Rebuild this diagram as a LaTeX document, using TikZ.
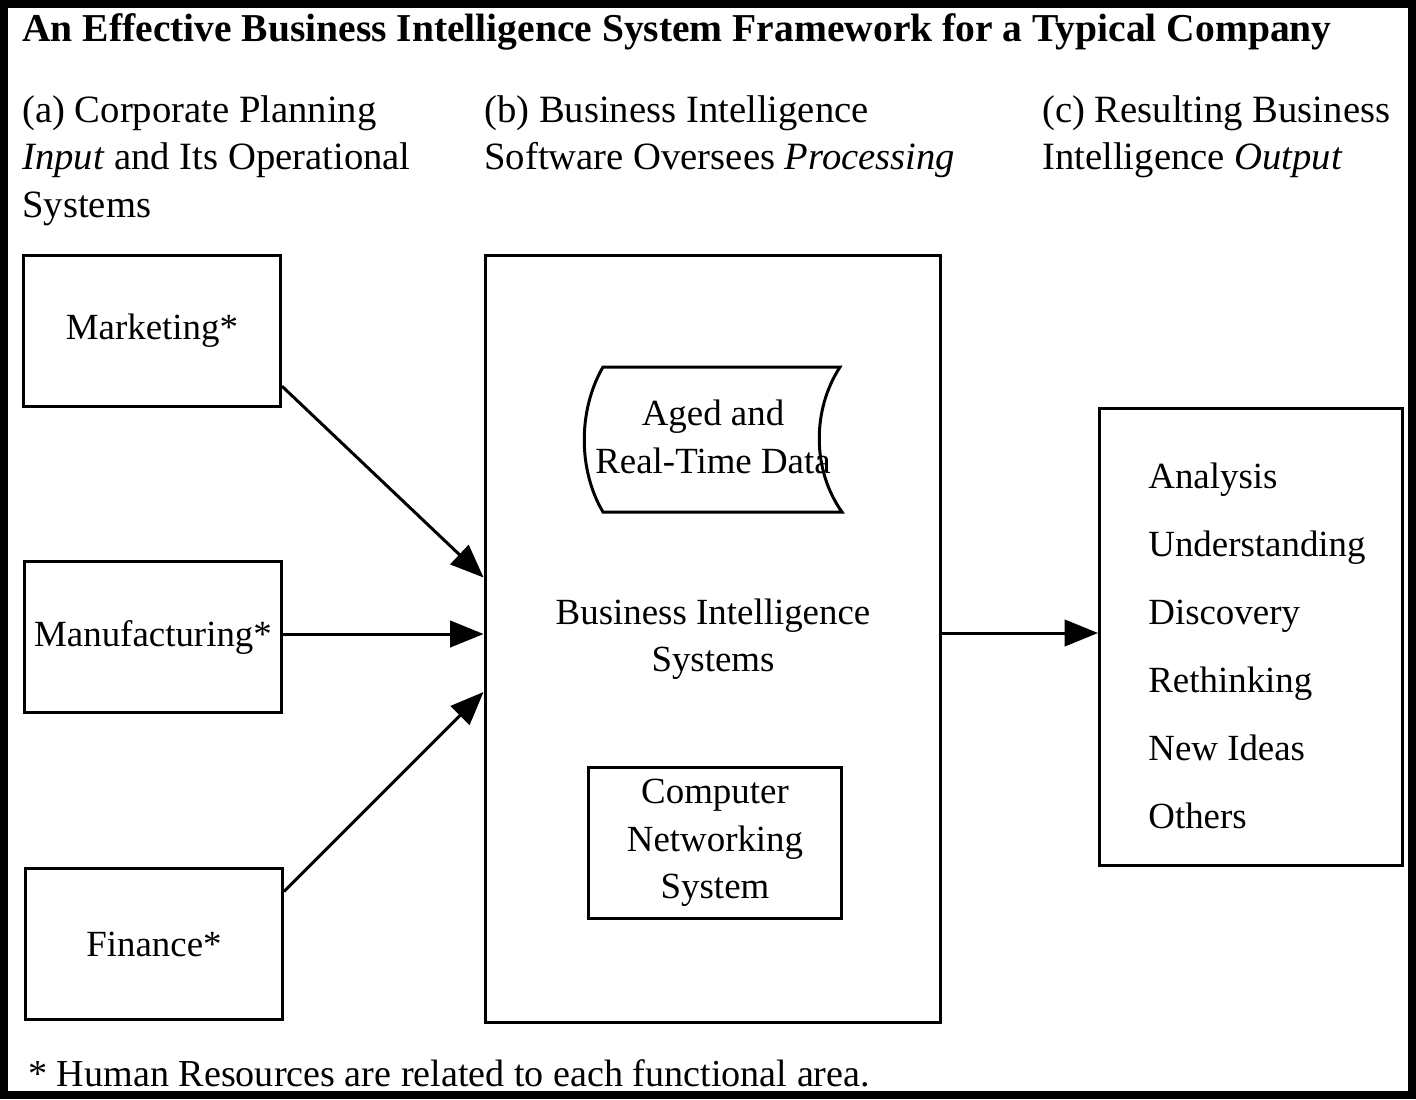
\documentclass[tikz,border=0pt]{standalone}
\usepackage{fontspec}
\setmainfont{Liberation Serif}
\usetikzlibrary{calc,arrows.meta}

\begin{document}
\begin{tikzpicture}[
		x=0.02cm, y=-0.02cm,
		box line/.style={line width=1.7pt}, arrow line/.style={line width=1.7pt,-{Triangle[length=19pt,width=15pt]}},
		every node/.style={color=black,font=\fontsize{21}{27}\selectfont},
		]
		\tikzset{
			areaBox/.style={box line,draw,rectangle,inner sep=0pt,minimum width=5.14cm,minimum height=3.02cm},
			headText/.style={anchor=north west,inner sep=0pt,align=left,font=\fontsize{22}{27}\selectfont},
			itemText/.style={anchor=base west,inner sep=0pt},
		}
		\useasboundingbox (0,0) rectangle (1416,1099);
		\draw[line width=4.6pt] (4,4) rectangle (1412,1095);
		
		% headings
		\node[headText,font=\fontsize{22.5}{27}\selectfont\bfseries] (title) at (22,13)
		{An Effective Business Intelligence System Framework for a Typical Company};
		\node[headText] (headA) at (22,95) {(a) Corporate Planning\\\textit{Input} and Its Operational\\Systems};
		\node[headText] (headB) at (484,95) {(b) Business Intelligence\\Software Oversees \textit{Processing}};
		\node[headText] (headC) at (1042,95) {(c) Resulting Business\\Intelligence \textit{Output}};
		
		% input systems
		\node[areaBox] (mkt) at (152,331) {Marketing*};
		\node[areaBox] (mfg) at (153,637) {Manufacturing*};
		\node[areaBox] (fin) at (154,944) {Finance*};
		
		% processing
		\node[box line,draw,rectangle,inner sep=0pt,minimum width=9.12cm,minimum height=15.36cm,align=center] (bis) at (713,639)
		{Business Intelligence\\Systems};
		\draw[box line]
		(603,367) coordinate (dts) -- (840,367) coordinate (dte)
		.. controls (812,410) and (812,470) .. (842,512)
		-- (603,512) .. controls (578,470) and (578,410) .. cycle;
		\node[inner sep=0pt,align=center] (data) at (713,437) {Aged and\\Real-Time Data};
		\node[box line,draw,rectangle,inner sep=0pt,minimum width=5.08cm,minimum height=3.02cm,align=center] (cns) at (715,843)
		{Computer\\Networking\\System};
		
		% output
		\node[box line,draw,rectangle,inner sep=0pt,minimum width=6.06cm,minimum height=9.16cm] (out) at (1251,637) {};
		\foreach \Item [count=\i] in {Analysis, Understanding, Discovery, Rethinking, New Ideas, Others}{
			\node[itemText] (item\i) at (1148,{488+68*(\i-1)}) {\Item};
		}
		
		\coordinate (bisIn) at ($(bis.west)+(0,-5)$);
		\coordinate (outIn) at ($(out.west)+(0,-4)$);
		\draw[arrow line] (mkt.-23) -- (bis.165.5);
		\draw[arrow line] (mfg.east |- bisIn) -- (bisIn);
		\draw[arrow line] (fin.22.6) -- (bis.193.8);
		\draw[arrow line] (bis.east |- outIn) -- (outIn);
		
		\node[headText,font=\fontsize{21.7}{27}\selectfont] (note) at (28,1059) {* Human Resources are related to each functional area.};
	\end{tikzpicture}
\end{document}
